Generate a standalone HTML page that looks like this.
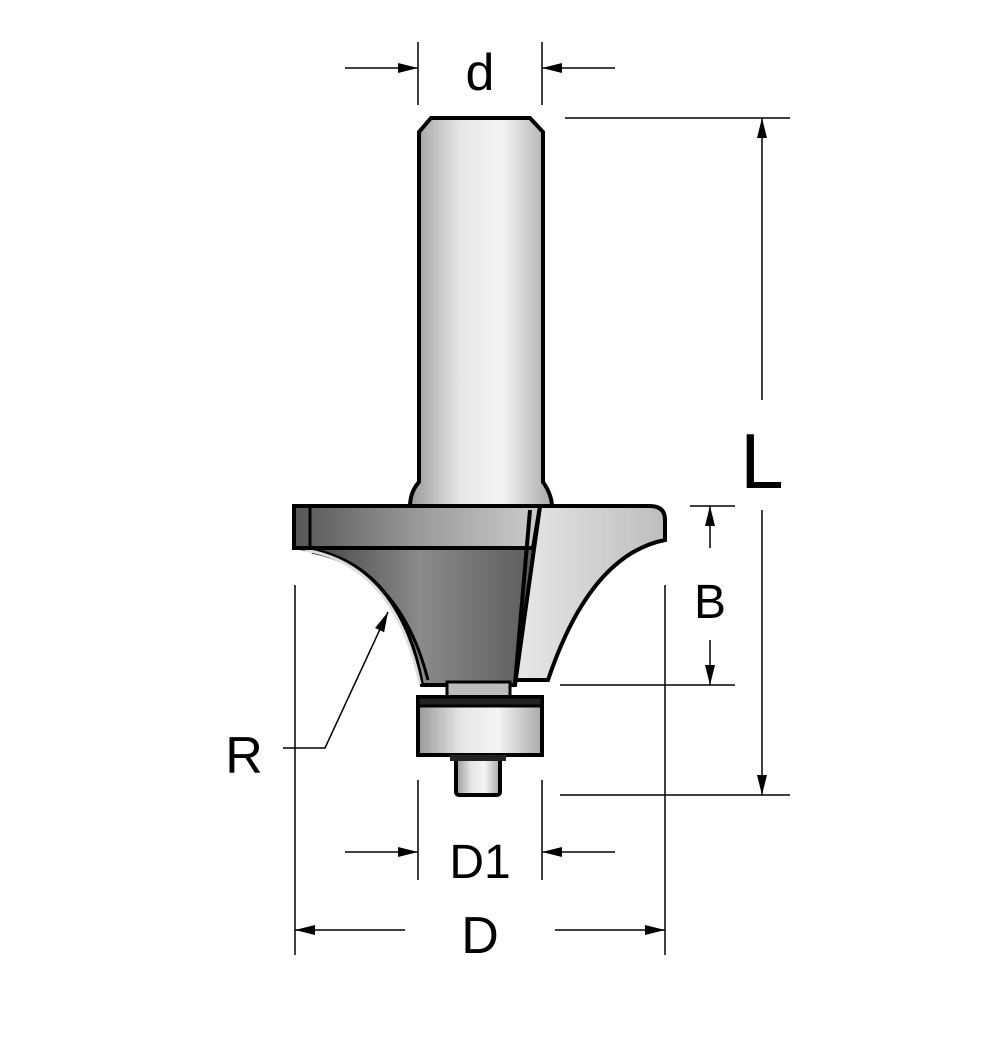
<!DOCTYPE html>
<html><head><meta charset="utf-8"><style>
html,body{margin:0;padding:0;background:#fff}
svg{display:block}
text{font-family:"Liberation Sans",sans-serif;fill:#000}
</style></head><body>
<svg width="1000" height="1040" viewBox="0 0 1000 1040" xmlns="http://www.w3.org/2000/svg">
<defs>
<linearGradient id="sh" x1="0" x2="1" y1="0" y2="0">
<stop offset="0" stop-color="#9a9a9a"/><stop offset="0.35" stop-color="#e6e6e6"/><stop offset="0.65" stop-color="#f4f4f4"/><stop offset="1" stop-color="#a8a8a8"/>
</linearGradient>
<linearGradient id="dk" x1="0" x2="1" y1="0" y2="0">
<stop offset="0" stop-color="#3e3e3e"/><stop offset="0.5" stop-color="#8a8a8a"/><stop offset="1" stop-color="#5a5a5a"/>
</linearGradient>
<linearGradient id="pl" x1="0" x2="1">
<stop offset="0" stop-color="#555"/><stop offset="0.5" stop-color="#999"/><stop offset="1" stop-color="#ccc"/>
</linearGradient>
<linearGradient id="rt" x1="0" x2="1">
<stop offset="0" stop-color="#e8e8e8"/><stop offset="1" stop-color="#bdbdbd"/>
</linearGradient>
<marker id="a" viewBox="0 0 20 10" refX="20" refY="5" markerWidth="20" markerHeight="10" markerUnits="userSpaceOnUse" orient="auto">
<path d="M0,0 L20,5 L0,10 Z" fill="#000"/></marker>
</defs>
<g fill="none" stroke="#000" stroke-width="2">
<!-- shank -->
<path d="M431,118 L530,118 L543,132 L543,482 Q552,495 552,507 L410,507 Q410,492 419,482 L419,132 Z" fill="url(#sh)" stroke-width="4"/>
<!-- right light body -->
<path d="M540,506 L650,506 Q665,506 665,520 L665,540 Q590,555 548,680 L515,680 Z" fill="url(#rt)" stroke-width="4"/>
<!-- dark body with left curve -->
<path d="M300,548 Q400,560 422,685 L515,685 L540,506 L300,506 Z" fill="url(#dk)" stroke-width="4"/>
<path d="M312,552 Q400,570 428,680" stroke="#000" stroke-width="3"/>
<path d="M305,550 Q395,565 420,684" stroke="#ddd" stroke-width="3"/>
<!-- top plate -->
<path d="M294,506 L540,506 L533,548 L294,548 Z" fill="url(#pl)" stroke-width="4"/>
<line x1="310" y1="508" x2="310" y2="546" stroke-width="3"/>
<line x1="530" y1="510" x2="515" y2="684" stroke-width="4"/>
<!-- neck -->
<rect x="447" y="682" width="63" height="16" fill="#bbb" stroke-width="3"/>
<!-- bearing -->
<rect x="418" y="697" width="124" height="58" fill="url(#sh)" stroke-width="4"/>
<rect x="418" y="697" width="124" height="9" fill="#222" stroke-width="3"/>
<!-- screw -->
<rect x="456" y="755" width="44" height="40" rx="3" fill="url(#sh)" stroke-width="4"/>
<rect x="450" y="755" width="56" height="6" fill="#222" stroke="none"/>

<!-- dimension d -->
<g stroke-width="1.5">
<line x1="418" y1="42" x2="418" y2="105"/><line x1="542" y1="42" x2="542" y2="105"/>
<line x1="345" y1="68" x2="418" y2="68" marker-end="url(#a)"/>
<line x1="615" y1="68" x2="542" y2="68" marker-end="url(#a)"/>
<!-- L -->
<line x1="565" y1="118" x2="790" y2="118"/><line x1="560" y1="795" x2="790" y2="795"/>
<line x1="762" y1="400" x2="762" y2="118" marker-end="url(#a)"/>
<line x1="762" y1="510" x2="762" y2="795" marker-end="url(#a)"/>
<!-- B -->
<line x1="690" y1="506" x2="735" y2="506"/><line x1="560" y1="685" x2="735" y2="685"/>
<line x1="710" y1="548" x2="710" y2="506" marker-end="url(#a)"/>
<line x1="710" y1="640" x2="710" y2="685" marker-end="url(#a)"/>
<!-- D1 -->
<line x1="418" y1="780" x2="418" y2="880"/><line x1="542" y1="780" x2="542" y2="880"/>
<line x1="345" y1="852" x2="418" y2="852" marker-end="url(#a)"/>
<line x1="615" y1="852" x2="542" y2="852" marker-end="url(#a)"/>
<!-- D -->
<line x1="295" y1="585" x2="295" y2="955"/><line x1="665" y1="585" x2="665" y2="955"/>
<line x1="405" y1="930" x2="295" y2="930" marker-end="url(#a)"/>
<line x1="555" y1="930" x2="665" y2="930" marker-end="url(#a)"/>
<!-- R -->
<polyline points="283,748 325,748 388,612" marker-end="url(#a)"/>
</g>
</g>
<text x="480" y="90" font-size="52" text-anchor="middle">d</text>
<text x="762" y="488" font-size="78" text-anchor="middle">L</text>
<text x="710" y="618" font-size="48" text-anchor="middle">B</text>
<text x="480" y="878" font-size="48" text-anchor="middle">D1</text>
<text x="480" y="953" font-size="52" text-anchor="middle">D</text>
<text x="244" y="773" font-size="52" text-anchor="middle">R</text>
</svg>
</body></html>
